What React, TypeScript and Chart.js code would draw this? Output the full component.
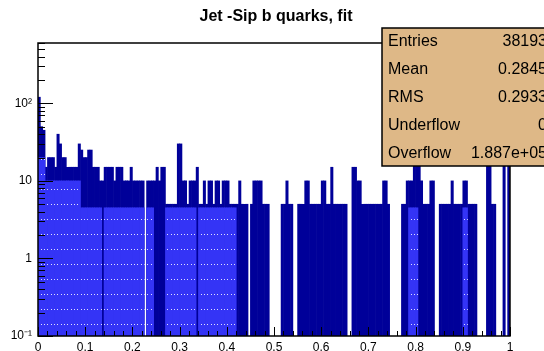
import React, { useEffect, useRef } from 'react';
import { Chart, registerables } from 'chart.js';

Chart.register(...registerables);

// ---- data ----
const TITLE = 'Jet -Sip b quarks, fit';
const X_MIN = 0;
const X_MAX = 1;
const BIN_WIDTH = 0.005; // 200 bins on [0,1]

// total (dark) histogram, counts per bin
const darkCounts = [
  120, 50, 45, 15, 20, 20, 20, 15, 40, 30,
  20, 20, 15, 15, 15, 15, 15, 30, 25, 20,
  20, 25, 25, 15, 15, 15, 10, 10, 15, 15,
  15, 15, 10, 15, 15, 15, 10, 10, 10, 15,
  10, 10, 10, 10, 10, 0, 10, 10, 10, 10,
  15, 10, 15, 15, 5, 5, 5, 5, 5, 30,
  30, 10, 10, 5, 10, 10, 10, 15, 5, 5,
  10, 5, 10, 10, 5, 10, 10, 5, 10, 10,
  10, 5, 5, 5, 5, 10, 5, 5, 5, 0,
  5, 10, 10, 10, 10, 5, 5, 5, 0, 0,
  0, 0, 0, 5, 5, 10, 5, 5, 0, 0,
  5, 5, 5, 10, 10, 5, 5, 5, 5, 5,
  10, 10, 5, 5, 15, 5, 5, 5, 5, 5,
  5, 0, 0, 15, 15, 10, 10, 5, 5, 5,
  5, 5, 5, 5, 5, 5, 10, 10, 5, 0,
  0, 0, 0, 0, 5, 5, 10, 10, 10, 20,
  20, 20, 10, 5, 5, 5, 10, 10, 0, 0,
  5, 5, 5, 5, 5, 10, 5, 5, 5, 5,
  10, 10, 5, 5, 5, 5, 0, 0, 0, 0,
  25, 25, 5, 5, 0, 0, 0, 25, 0, 25,
];

// fit (bright, hatched) histogram, counts per bin
const brightCounts = [
  20, 20, 20, 10, 10, 10, 10, 10, 10, 10,
  10, 10, 10, 10, 10, 10, 10, 10, 4.5, 4.5,
  4.5, 4.5, 4.5, 4.5, 4.5, 4.5, 4.5, 0, 4.5, 4.5,
  4.5, 4.5, 4.5, 4.5, 4.5, 4.5, 4.5, 4.5, 4.5, 4.5,
  4.5, 4.5, 4.5, 4.5, 4.5, 0, 4.5, 4.5, 4.5, 0,
  0, 0, 0, 0, 4.5, 4.5, 4.5, 4.5, 4.5, 4.5,
  4.5, 4.5, 4.5, 4.5, 4.5, 4.5, 4.5, 0, 4.5, 4.5,
  4.5, 4.5, 4.5, 4.5, 4.5, 4.5, 4.5, 4.5, 4.5, 4.5,
  4.5, 4.5, 4.5, 4.5, 0, 0, 0, 0, 0, 0,
  0, 0, 0, 0, 0, 0, 0, 0, 0, 0,
  0, 0, 0, 0, 0, 0, 0, 0, 0, 0,
  0, 0, 0, 0, 0, 0, 0, 0, 0, 0,
  0, 0, 0, 0, 0, 0, 0, 0, 0, 0,
  0, 0, 0, 0, 0, 0, 0, 0, 0, 0,
  0, 0, 0, 0, 0, 0, 0, 0, 0, 0,
  0, 0, 0, 0, 0, 0, 0, 4.5, 4.5, 4.5,
  4.5, 0, 0, 0, 0, 0, 0, 0, 0, 0,
  0, 0, 0, 0, 0, 0, 0, 0, 0, 0,
  4.5, 4.5, 0, 0, 0, 0, 0, 0, 0, 0,
  0, 0, 0, 0, 0, 0, 0, 0, 0, 0,
];

const xTickLabels = ['0', '0.1', '0.2', '0.3', '0.4', '0.5', '0.6', '0.7', '0.8', '0.9', '1'];
const yDecadeLabels: Record<number, string> = { [-1]: '10\u207B\u00B9', 0: '1', 1: '10', 2: '10\u00B2' };
const Y_MIN = 0.1;
const Y_MAX = 600;

const statsLabels = ['Entries', 'Mean', 'RMS', 'Underflow', 'Overflow'];
const statsValues = ['38193', '0.2845', '0.2933', '0', '1.887e+05'];

const DARK = '#000099';
const BRIGHT = '#3434f6';
const STATS_BG = '#deb887';
const FONT = '"Liberation Sans", Arial, Helvetica, sans-serif';

function makePattern(): CanvasPattern | string {
  const pc = document.createElement('canvas');
  pc.width = 10;
  pc.height = 15;
  const p = pc.getContext('2d');
  if (!p) return BRIGHT;
  p.fillStyle = BRIGHT;
  p.fillRect(0, 0, 10, 15);
  p.fillStyle = 'rgba(255,255,255,0.85)';
  [1, 4, 7].forEach((dx) => p.fillRect(dx, 9, 1, 1));
  const pat = p.createPattern(pc, 'repeat');
  return pat || BRIGHT;
}

const rootStylePlugin = {
  id: 'rootStyle',
  afterDatasetsDraw(chart: any) {
    const { ctx, chartArea: a, scales } = chart;
    const xs = scales.x;
    const ys = scales.y;
    ctx.save();
    ctx.strokeStyle = '#000';
    ctx.lineWidth = 1;
    ctx.beginPath();
    for (let d = -1; d <= 2; d++) {
      for (let m = 1; m <= 9; m++) {
        const v = m * Math.pow(10, d);
        if (v < ys.min - 1e-9 || v > ys.max) continue;
        const py = Math.round(ys.getPixelForValue(v)) + 0.5;
        const len = m === 1 ? 15 : 7;
        ctx.moveTo(a.left, py);
        ctx.lineTo(a.left + len, py);
      }
    }
    for (let i = 0; i <= 50; i++) {
      const v = X_MIN + i * 0.02;
      const px = Math.round(xs.getPixelForValue(v)) + 0.5;
      const len = i % 5 === 0 ? 9 : 5;
      ctx.moveTo(px, a.bottom);
      ctx.lineTo(px, a.bottom - len);
    }
    ctx.stroke();
    ctx.lineWidth = 1.5;
    ctx.strokeRect(a.left, a.top, a.right - a.left, a.bottom - a.top);
    ctx.restore();
  },
  afterDraw(chart: any) {
    const { ctx } = chart;
    ctx.save();
    // title
    ctx.fillStyle = '#000';
    ctx.font = `bold 16px ${FONT}`;
    ctx.textAlign = 'center';
    ctx.textBaseline = 'alphabetic';
    ctx.fillText(TITLE, 276, 21);
    // stats box
    const bx = 382, by = 28, bw = 175, bh = 138;
    ctx.fillStyle = STATS_BG;
    ctx.fillRect(bx, by, bw, bh);
    ctx.strokeStyle = '#000';
    ctx.lineWidth = 1.5;
    ctx.strokeRect(bx, by, bw, bh);
    ctx.font = `16px ${FONT}`;
    ctx.fillStyle = '#000';
    ctx.textBaseline = 'middle';
    statsLabels.forEach((lab, i) => {
      const cy = 42 + 27.8 * i;
      ctx.textAlign = 'left';
      ctx.fillText(lab, 388, cy);
      ctx.textAlign = 'right';
      ctx.fillText(statsValues[i], 547, cy);
    });
    ctx.restore();
  },
};

export default function App() {
  const ref = useRef<HTMLCanvasElement | null>(null);
  useEffect(() => {
    document.body.style.margin = '0';
    const canvas = ref.current;
    if (!canvas) return;
    const pattern = makePattern();
    const toPoints = (arr: number[]) =>
      arr.map((c, i) => ({ x: X_MIN + (i + 0.5) * BIN_WIDTH, y: c > 0 ? c : null }));
    const chart = new Chart(canvas, {
      type: 'bar',
      data: {
        datasets: [
          {
            label: 'b quarks',
            data: toPoints(darkCounts) as any,
            backgroundColor: DARK,
            borderWidth: 0,
            grouped: false,
            barPercentage: 1,
            categoryPercentage: 1,
            order: 2,
          } as any,
          {
            label: 'fit',
            data: toPoints(brightCounts) as any,
            backgroundColor: pattern as any,
            borderWidth: 0,
            grouped: false,
            barPercentage: 1,
            categoryPercentage: 1,
            order: 1,
          } as any,
        ],
      },
      options: {
        responsive: false,
        animation: false,
        events: [],
        layout: { padding: { top: 43, right: 34, bottom: 0, left: 0 } },
        plugins: {
          legend: { display: false },
          tooltip: { enabled: false },
          title: { display: false },
        },
        scales: {
          x: {
            type: 'linear',
            min: X_MIN,
            max: X_MAX,
            offset: false,
            grid: { display: false, drawTicks: false },
            border: { display: false },
            ticks: {
              stepSize: 0.1,
              autoSkip: false,
              maxRotation: 0,
              padding: 4,
              color: '#000',
              font: { family: FONT, size: 12 },
              callback: (v: any) => xTickLabels[Math.round(Number(v) * 10)] ?? '',
            },
            afterFit: (s: any) => { s.height = 15; },
          },
          y: {
            type: 'logarithmic',
            min: Y_MIN,
            max: Y_MAX,
            grid: { display: false, drawTicks: false },
            border: { display: false },
            ticks: {
              autoSkip: false,
              padding: 6,
              color: '#000',
              font: { family: FONT, size: 12 },
              callback: (v: any) => {
                const l = Math.log10(Number(v));
                const r = Math.round(l);
                return Math.abs(l - r) < 1e-6 ? yDecadeLabels[r] ?? '' : '';
              },
            },
            afterFit: (s: any) => { s.width = 38; },
          },
        },
      },
      plugins: [rootStylePlugin],
    } as any);
    return () => chart.destroy();
  }, []);
  return (
    <div style={{ width: 544, height: 351, background: '#fff' }}>
      <canvas ref={ref} width={544} height={351} style={{ display: 'block' }} />
    </div>
  );
}
